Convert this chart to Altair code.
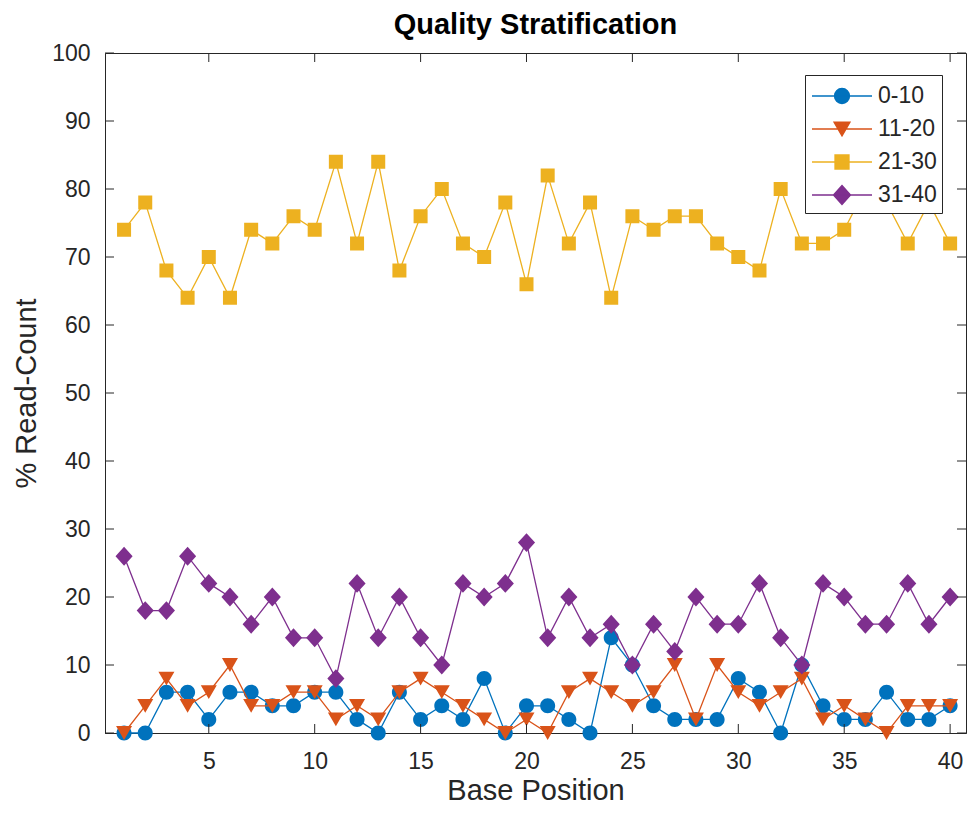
import altair as alt
import pandas as pd

FONT = "Liberation Sans"
AXC = "#262626"

positions = list(range(1, 41))
series_names = ["0-10", "11-20", "21-30", "31-40"]
series_colors = ["#0072BD", "#D95319", "#EDB120", "#7E2F8E"]

q0_10 = [0, 0, 6, 6, 2, 6, 6, 4, 4, 6,
         6, 2, 0, 6, 2, 4, 2, 8, 0, 4,
         4, 2, 0, 14, 10, 4, 2, 2, 2, 8,
         6, 0, 10, 4, 2, 2, 6, 2, 2, 4]
q11_20 = [0, 4, 8, 4, 6, 10, 4, 4, 6, 6,
          2, 4, 2, 6, 8, 6, 4, 2, 0, 2,
          0, 6, 8, 6, 4, 6, 10, 2, 10, 6,
          4, 6, 8, 2, 4, 2, 0, 4, 4, 4]
q21_30 = [74, 78, 68, 64, 70, 64, 74, 72, 76, 74,
          84, 72, 84, 68, 76, 80, 72, 70, 78, 66,
          82, 72, 78, 64, 76, 74, 76, 76, 72, 70,
          68, 80, 72, 72, 74, 80, 78, 72, 78, 72]
q31_40 = [26, 18, 18, 26, 22, 20, 16, 20, 14, 14,
          8, 22, 14, 20, 14, 10, 22, 20, 22, 28,
          14, 20, 14, 16, 10, 16, 12, 20, 16, 16,
          22, 14, 10, 22, 20, 16, 16, 22, 16, 20]

x_ticks = [5, 10, 15, 20, 25, 30, 35, 40]
y_ticks = [0, 10, 20, 30, 40, 50, 60, 70, 80, 90, 100]

series_values = [q0_10, q11_20, q21_30, q31_40]
rows = []
for name, vals in zip(series_names, series_values):
    for p, v in zip(positions, vals):
        rows.append({"pos": p, "value": v, "series": name})
df = pd.DataFrame(rows)

W, H = 861, 680
TICK = 9

xscale = alt.Scale(domain=[0.1, 40.75], nice=False, zero=False)
yscale = alt.Scale(domain=[0, 100], nice=False, zero=False)
color_scale = alt.Scale(domain=series_names, range=series_colors)

# marker shapes: a line segment (only visible when stroked, i.e. in the legend)
# plus the filled marker. Path units: symbol size 900 -> 15 px per unit.
marker_paths = [
    "M-2,0H2M0.5,0A0.5,0.5,0,1,1,-0.5,0A0.5,0.5,0,1,1,0.5,0Z",
    "M-2,0H2M0,0.46L-0.533,-0.46L0.533,-0.46Z",
    "M-2,0H2M-0.467,-0.467H0.467V0.467H-0.467Z",
    "M-2,0H2M0,-0.63L0.57,0L0,0.63L-0.57,0Z",
]
shape_scale = alt.Scale(domain=series_names, range=marker_paths)

x_axis = alt.Axis(values=x_ticks, title="Base Position", labelPadding=17,
                  titlePadding=3, ticks=False)
y_axis = alt.Axis(values=y_ticks, title="% Read-Count", labelPadding=15,
                  titlePadding=10, ticks=False)

leg = alt.Legend(
    title=None, orient="none", legendX=700, legendY=22,
    strokeColor=AXC, fillColor="white", padding=5,
    symbolSize=900, symbolStrokeWidth=1.3, symbolOpacity=1,
    symbolOffset=16, labelOffset=20, rowPadding=5,
    labelFont=FONT, labelFontSize=23, labelColor=AXC,
    labelExpr="datum.label + '   '",
)

X = alt.X("pos:Q", scale=xscale, axis=x_axis)
Y = alt.Y("value:Q", scale=yscale, axis=y_axis)
S = alt.Stroke("series:N", scale=color_scale, legend=leg)
F = alt.Fill("series:N", scale=color_scale, legend=leg)
SH = alt.Shape("series:N", scale=shape_scale, legend=leg)

layers = []
for name in series_names:
    base = alt.Chart(df).transform_filter(alt.datum.series == name)
    line = base.mark_line(strokeWidth=1.3).encode(x=X, y=Y, stroke=S)
    pts = base.mark_point(filled=True, opacity=1, size=900, strokeWidth=0).encode(
        x=X, y=Y, fill=F, stroke=S, shape=SH)
    layers += [line, pts]

# inward ticks on all four sides (MATLAB style box)
ytick_df = pd.DataFrame({"t": y_ticks})
xtick_df = pd.DataFrame({"t": x_ticks})
yt = alt.Y("t:Q", scale=yscale, axis=y_axis)
xt = alt.X("t:Q", scale=xscale, axis=x_axis)
layers.append(alt.Chart(ytick_df).mark_rule(color=AXC, strokeWidth=1).encode(
    y=yt, x=alt.value(0), x2=alt.value(TICK)))
layers.append(alt.Chart(ytick_df).mark_rule(color=AXC, strokeWidth=1).encode(
    y=yt, x=alt.value(W - TICK), x2=alt.value(W)))
layers.append(alt.Chart(xtick_df).mark_rule(color=AXC, strokeWidth=1).encode(
    x=xt, y=alt.value(H - TICK), y2=alt.value(H)))
layers.append(alt.Chart(xtick_df).mark_rule(color=AXC, strokeWidth=1).encode(
    x=xt, y=alt.value(0), y2=alt.value(TICK)))

chart = alt.layer(*layers).properties(
    width=W, height=H,
    autosize=alt.AutoSizeParams(type="none"),
    padding={"left": 97, "top": 45, "right": 1, "bottom": 70},
    title=alt.Title("Quality Stratification", fontSize=29, fontWeight="bold",
                    font=FONT, color="black", offset=2, anchor="middle",
                    frame="group"),
).configure_axis(
    labelFont=FONT, labelFontSize=23, labelColor=AXC,
    titleFont=FONT, titleFontSize=29, titleFontWeight="normal", titleColor=AXC,
    domainColor=AXC, domainWidth=1, grid=False,
).configure_view(stroke=AXC, strokeWidth=1)

chart.save("out.html", embed_options={"renderer": "svg", "actions": False})
